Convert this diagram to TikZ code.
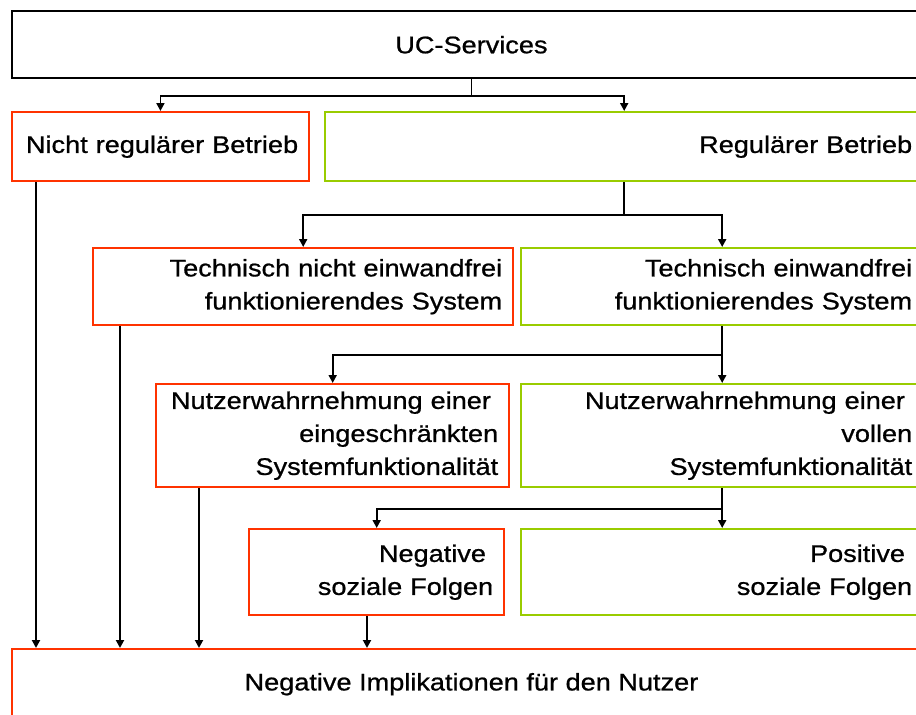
\documentclass[tikz,border=0pt]{standalone}
\usepackage{fontspec}
\setmainfont[FakeStretch=1.13,FakeBold=0.8]{Liberation Sans}
\usetikzlibrary{arrows.meta}
\definecolor{badred}{HTML}{FF3300}
\definecolor{goodgreen}{HTML}{99CC00}
\tikzset{
  box/.style={draw, line width=2.4pt, rectangle, anchor=north west,
    inner xsep=11pt, inner ysep=0pt, align=right,
    font=\fontsize{24}{33}\selectfont},
  badbox/.style={box, draw=badred},
  goodbox/.style={box, draw=goodgreen},
  conn/.style={line width=1.9pt, black},
  arr/.style={conn, -{Triangle[length=8pt,width=8pt]}},
}
\begin{document}
\begin{tikzpicture}[x=1pt,y=-1pt]
\clip (0,0) rectangle (916,715);

% top level
\node[box, draw=black, align=center, minimum width=919.5pt, minimum height=67pt]
  (uc) at (10.5,10) {UC-Services};

% second level
\node[badbox, text width=275.5pt, minimum height=69pt] (nrb) at (10.5,111)
  {Nicht regulärer Betrieb};
\node[goodbox, text width=576pt, minimum height=69pt] (rb) at (324,111)
  {Regulärer Betrieb};

% third level
\node[badbox, text width=398pt, minimum height=77pt] (tn) at (92,247)
  {Technisch nicht einwandfrei\\funktionierendes System};
\node[goodbox, text width=380pt, minimum height=77pt] (te) at (520,247)
  {Technisch einwandfrei\\funktionierendes System};

% fourth level
\node[badbox, text width=331pt, minimum height=103pt] (nwe) at (155,383)
  {Nutzerwahrnehmung einer\kern0.3em\\eingeschränkten\\Systemfunktionalität};
\node[goodbox, text width=380pt, minimum height=103pt] (nwv) at (520,383)
  {Nutzerwahrnehmung einer\kern0.3em\\vollen\\Systemfunktionalität};

% fifth level
\node[badbox, text width=233pt, minimum height=86pt] (nsf) at (248,528)
  {Negative\kern0.3em\\soziale Folgen};
\node[goodbox, text width=380pt, minimum height=86pt] (psf) at (520,528)
  {Positive\kern0.3em\\soziale Folgen};

% result
\node[box, draw=badred, align=center, minimum width=919.5pt, minimum height=70pt]
  (neg) at (10.5,648) {Negative Implikationen für den Nutzer};

% branching connectors
\draw[conn] (uc.south) -- ++(0,17) coordinate (j1);
\draw[arr] (j1) -| (nrb.north);
\draw[arr] (j1) -| (rb.north);

\draw[conn] (rb.south) -- ++(0,33) coordinate (j2);
\draw[arr] (j2) -| (tn.north);
\draw[arr] (j2) -| (te.north);

\draw[conn] (te.south) -- ++(0,29) coordinate (j3);
\draw[arr] (j3) -| (nwe.north);
\draw[arr] (j3) -| (nwv.north);

\draw[conn] (nwv.south) -- ++(0,21) coordinate (j4);
\draw[arr] (j4) -| (nsf.north);
\draw[arr] (j4) -| (psf.north);

% drops into the result box
\coordinate (d1) at ([xshift=25.5pt]nrb.south west);
\coordinate (d2) at ([xshift=28pt]tn.south west);
\coordinate (d3) at ([xshift=44pt]nwe.south west);
\coordinate (d4) at ([xshift=119pt]nsf.south west);
\draw[arr] (d1) -- (d1 |- neg.north);
\draw[arr] (d2) -- (d2 |- neg.north);
\draw[arr] (d3) -- (d3 |- neg.north);
\draw[arr] (d4) -- (d4 |- neg.north);
\end{tikzpicture}
\end{document}
